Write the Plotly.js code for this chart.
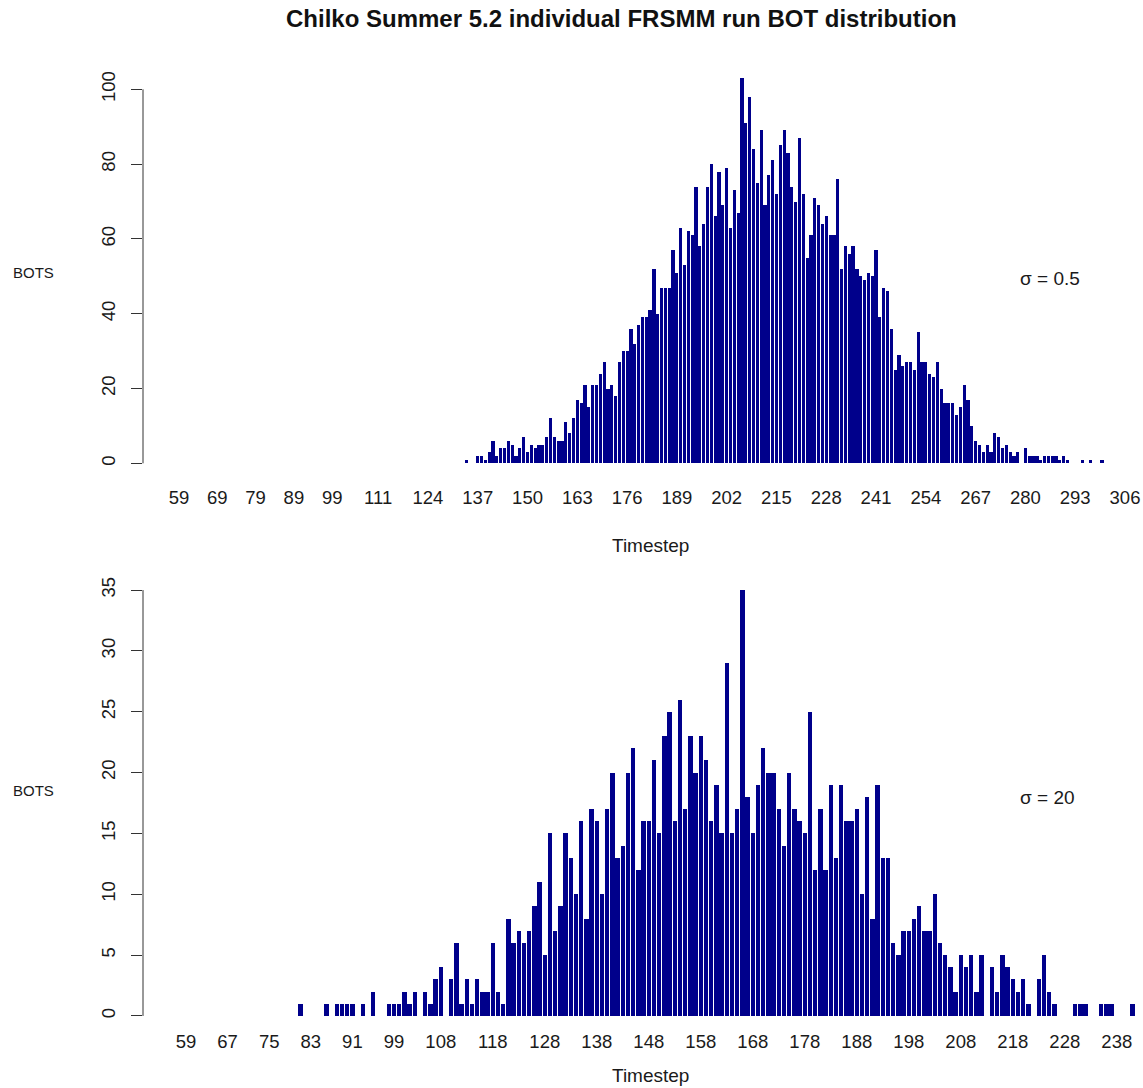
<!DOCTYPE html>
<html>
<head>
<meta charset="utf-8">
<script src="https://cdn.plot.ly/plotly-3.0.1.min.js"></script>
<style>
  html, body { margin: 0; padding: 0; background: #ffffff; }
  #chart { width: 1143px; height: 1088px; }
</style>
</head>
<body>
<div id="chart"></div>
<script>
// BOT counts per timestep, sigma = 0.5 run (timesteps 134..300)
const topStart = 134;
const topCounts = [
  1, 0, 0, 2, 2, 1, 3, 6, 2, 4,
  4, 6, 5, 2, 4, 7, 3, 5, 4, 5,
  5, 7, 12, 7, 6, 6, 11, 8, 12, 17,
  16, 21, 15, 21, 21, 24, 27, 20, 21, 18,
  27, 30, 30, 36, 32, 37, 39, 39, 41, 52,
  40, 47, 47, 47, 57, 51, 63, 53, 62, 61,
  74, 58, 64, 74, 80, 66, 78, 69, 79, 63,
  73, 67, 103, 91, 98, 84, 75, 89, 69, 77,
  81, 72, 85, 89, 83, 74, 70, 87, 72, 55,
  61, 71, 69, 64, 66, 61, 61, 76, 52, 58,
  56, 58, 52, 50, 49, 51, 50, 57, 39, 47,
  46, 36, 25, 29, 26, 27, 27, 25, 35, 27,
  27, 24, 23, 27, 20, 16, 16, 16, 13, 15,
  21, 17, 10, 6, 5, 3, 5, 3, 8, 7,
  4, 5, 3, 2, 3, 0, 4, 2, 2, 2,
  1, 2, 2, 2, 2, 1, 2, 1, 0, 0,
  0, 1, 0, 1, 0, 0, 1
];

// BOT counts per timestep, sigma = 20 run (timesteps 81..241)
const bottomStart = 81;
const bottomCounts = [
  1, 0, 0, 0, 0, 1, 0, 1, 1, 1,
  1, 0, 1, 0, 2, 0, 0, 1, 1, 1,
  2, 1, 2, 0, 2, 1, 3, 4, 0, 3,
  6, 1, 3, 1, 3, 2, 2, 6, 2, 1,
  8, 6, 7, 6, 7, 9, 11, 5, 15, 7,
  9, 15, 13, 10, 16, 8, 17, 16, 10, 17,
  20, 13, 14, 20, 22, 12, 16, 16, 21, 15,
  23, 25, 16, 26, 17, 23, 20, 23, 21, 16,
  19, 15, 29, 15, 17, 35, 18, 15, 19, 22,
  20, 20, 17, 14, 20, 17, 16, 15, 25, 12,
  17, 12, 19, 13, 19, 16, 16, 17, 10, 18,
  8, 19, 13, 13, 6, 5, 7, 7, 8, 9,
  7, 7, 10, 6, 5, 4, 2, 5, 4, 5,
  2, 5, 0, 4, 2, 5, 4, 3, 2, 3,
  1, 0, 3, 5, 2, 1, 0, 0, 0, 1,
  1, 1, 0, 0, 1, 1, 1, 0, 0, 0,
  1
];

// Timestep labels printed under each panel
const topTickLabels = [59, 69, 79, 89, 99, 111, 124, 137, 150, 163, 176, 189, 202, 215, 228, 241, 254, 267, 280, 293, 306];
const bottomTickLabels = [59, 67, 75, 83, 91, 99, 108, 118, 128, 138, 148, 158, 168, 178, 188, 198, 208, 218, 228, 238];
const topYTicks = [0, 20, 40, 60, 80, 100];
const bottomYTicks = [0, 5, 10, 15, 20, 25, 30, 35];

const W = 1143, H = 1088;
const FONT = 'Liberation Sans, Arial, Helvetica, sans-serif';
const INK = '#1a1a1a';
const BAR = '#00008B';

const steps = (start, n) => Array.from({ length: n }, (_, i) => start + i);
const px = x => x / W;
const py = y => 1 - y / H;

const traces = [
  {
    type: 'bar', x: steps(topStart, topCounts.length), y: topCounts,
    xaxis: 'x', yaxis: 'y', width: 1 / 1.2,
    marker: { color: BAR, line: { width: 0 } }, hoverinfo: 'skip'
  },
  {
    type: 'bar', x: steps(bottomStart, bottomCounts.length), y: bottomCounts,
    xaxis: 'x2', yaxis: 'y2', width: 1 / 1.2,
    marker: { color: BAR, line: { width: 0 } }, hoverinfo: 'skip'
  }
];

const xCommon = {
  tickmode: 'array', ticks: '', showline: false, showgrid: false, zeroline: false,
  tickfont: { family: FONT, size: 18.5, color: INK }, fixedrange: true
};
const yCommon = {
  tickmode: 'array', ticks: 'outside', ticklen: 11, tickwidth: 1, tickcolor: '#333',
  tickangle: -90, ticklabelstandoff: 9, showline: false, showgrid: false, zeroline: false,
  tickfont: { family: FONT, size: 18.5, color: INK }, fixedrange: true
};

const layout = {
  width: W, height: H,
  margin: { l: 0, r: 0, t: 0, b: 0, pad: 0 },
  paper_bgcolor: '#ffffff', plot_bgcolor: '#ffffff',
  showlegend: false, bargap: 0,
  font: { family: FONT, size: 19, color: INK },
  xaxis: Object.assign({}, xCommon, {
    domain: [px(143), 1], range: [49.6, 310.7], anchor: 'y',
    tickvals: topTickLabels, ticktext: topTickLabels.map(String)
  }),
  yaxis: Object.assign({}, yCommon, {
    domain: [py(484), py(62.7)], range: [-5.53, 107.12], anchor: 'x',
    tickvals: topYTicks, ticktext: topYTicks.map(String)
  }),
  xaxis2: Object.assign({}, xCommon, {
    domain: [px(143), 1], range: [50.73, 243.04], anchor: 'y2',
    tickvals: bottomTickLabels, ticktext: bottomTickLabels.map(String)
  }),
  yaxis2: Object.assign({}, yCommon, {
    domain: [py(1028), py(573)], range: [-0.99, 36.4], anchor: 'x2',
    tickvals: bottomYTicks, ticktext: bottomYTicks.map(String)
  }),
  shapes: [
    { type: 'line', xref: 'x domain', yref: 'y', x0: 0, x1: 0, y0: 0, y1: 100,
      line: { color: '#333', width: 1 } },
    { type: 'line', xref: 'x2 domain', yref: 'y2', x0: 0, x1: 0, y0: 0, y1: 35,
      line: { color: '#333', width: 1 } }
  ],
  annotations: [
    { text: '<b>Chilko Summer 5.2 individual FRSMM run BOT distribution</b>',
      xref: 'paper', yref: 'paper', x: px(621), y: py(18), xanchor: 'center', yanchor: 'middle',
      showarrow: false, font: { family: FONT, size: 24, color: '#111' } },
    { text: 'BOTS', xref: 'paper', yref: 'paper', x: px(33), y: py(272),
      xanchor: 'center', yanchor: 'middle', showarrow: false, font: { family: FONT, size: 15, color: INK } },
    { text: 'BOTS', xref: 'paper', yref: 'paper', x: px(33), y: py(790),
      xanchor: 'center', yanchor: 'middle', showarrow: false, font: { family: FONT, size: 15, color: INK } },
    { text: 'Timestep', xref: 'paper', yref: 'paper', x: px(650), y: py(545),
      xanchor: 'center', yanchor: 'middle', showarrow: false, font: { family: FONT, size: 19, color: INK } },
    { text: 'Timestep', xref: 'paper', yref: 'paper', x: px(650), y: py(1075),
      xanchor: 'center', yanchor: 'middle', showarrow: false, font: { family: FONT, size: 19, color: INK } },
    { text: 'σ = 0.5', xref: 'paper', yref: 'paper', x: px(1018), y: py(278),
      xanchor: 'left', yanchor: 'middle', showarrow: false, font: { family: FONT, size: 19, color: INK } },
    { text: 'σ = 20', xref: 'paper', yref: 'paper', x: px(1018), y: py(797),
      xanchor: 'left', yanchor: 'middle', showarrow: false, font: { family: FONT, size: 19, color: INK } }
  ]
};

Plotly.newPlot('chart', traces, layout, { staticPlot: true, displayModeBar: false });
</script>
</body>
</html>
